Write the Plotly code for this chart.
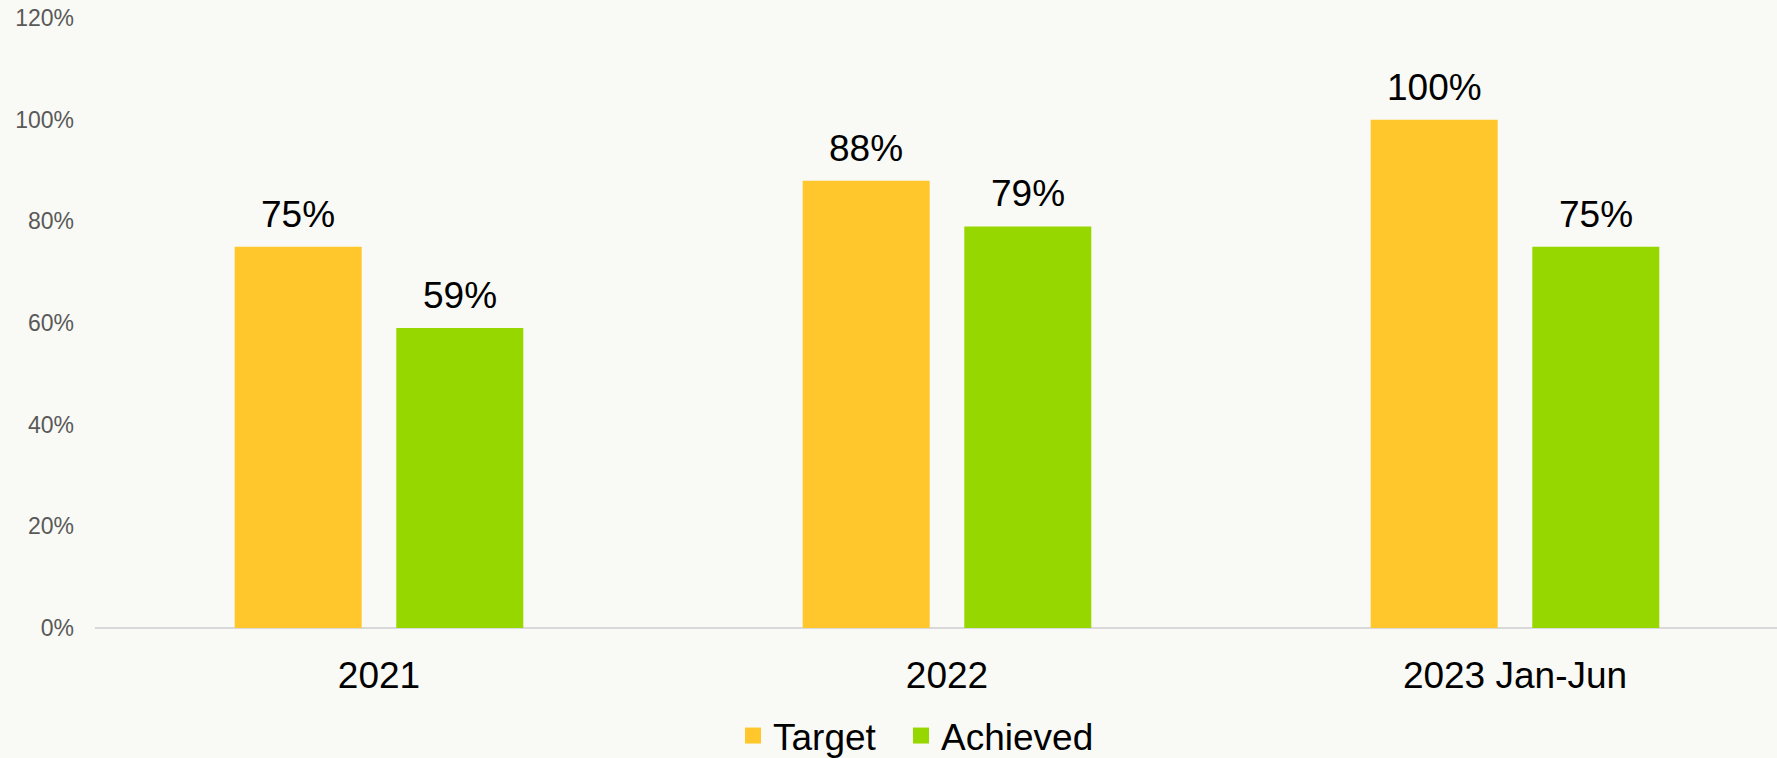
import plotly.graph_objects as go

categories = ["2021", "2022", "2023 Jan-Jun"]
target = [75, 88, 100]
achieved = [59, 79, 75]
series_names = ["Target", "Achieved"]
y_ticks = [0, 20, 40, 60, 80, 100, 120]

colors = ["#FFC72C", "#97D700"]
bg = "#F9FAF5"
font_family = "Arial, Liberation Sans, sans-serif"

W, H = 1777, 758
bargap = 0.431
bargroupgap = 0.214
legend_ids = ["legend", "legend2"]
legend_x = [733 / W, 901 / W]

fig = go.Figure()
for name, vals, col, lid in zip(series_names, [target, achieved], colors, legend_ids):
    fig.add_trace(go.Bar(
        name=name, x=list(range(len(categories))), y=vals,
        marker=dict(color=col, line=dict(width=0)),
        hoverinfo="skip", showlegend=False,
    ))
    # legend entry with a larger square swatch
    fig.add_trace(go.Scatter(
        name=name, x=[None], y=[None], mode="markers",
        marker=dict(symbol="square", size=19, color=col, line=dict(width=0)),
        showlegend=True, hoverinfo="skip", legend=lid,
    ))

# data labels centered above each bar
slot = (1 - bargap) / 2
for k, vals in enumerate([target, achieved]):
    off = (k - 0.5) * slot
    for i, v in enumerate(vals):
        fig.add_annotation(
            x=i + off, y=v, xref="x", yref="y",
            text=f"{v}%", showarrow=False,
            yanchor="bottom", yshift=10,
            font=dict(size=37, color="#000000", family=font_family),
        )

legend_style = dict(
    orientation="h", xref="container", yref="container",
    xanchor="left", y=22 / H, yanchor="middle",
    font=dict(size=37, color="#000000", family=font_family),
    bgcolor="rgba(0,0,0,0)", itemwidth=30, tracegroupgap=0,
)

fig.update_layout(
    width=W, height=H,
    paper_bgcolor=bg, plot_bgcolor=bg,
    barmode="group", bargap=bargap, bargroupgap=bargroupgap,
    margin=dict(l=95, r=0, t=18, b=130, autoexpand=False),
    font=dict(family=font_family),
    showlegend=True,
    legend=dict(x=legend_x[0], **legend_style),
    legend2=dict(x=legend_x[1], **legend_style),
    xaxis=dict(
        range=[-0.5, 2.5 - 22 / 568],
        tickmode="array", tickvals=list(range(len(categories))), ticktext=categories,
        showgrid=False, zeroline=False, showline=False, ticks="",
        tickfont=dict(size=37, color="#000000", family=font_family),
        ticklabelstandoff=22,
    ),
    yaxis=dict(
        range=[0, 120], tickvals=y_ticks, ticktext=[f"{t}%" for t in y_ticks],
        showgrid=False, zeroline=True, zerolinecolor="#D9D9D9", zerolinewidth=2,
        showline=False, ticks="",
        tickfont=dict(size=23, color="#595959", family=font_family),
        ticklabelstandoff=20,
    ),
)

fig.write_html("out.html", config={"displayModeBar": False},
               post_script="document.body.style.margin='0';")
